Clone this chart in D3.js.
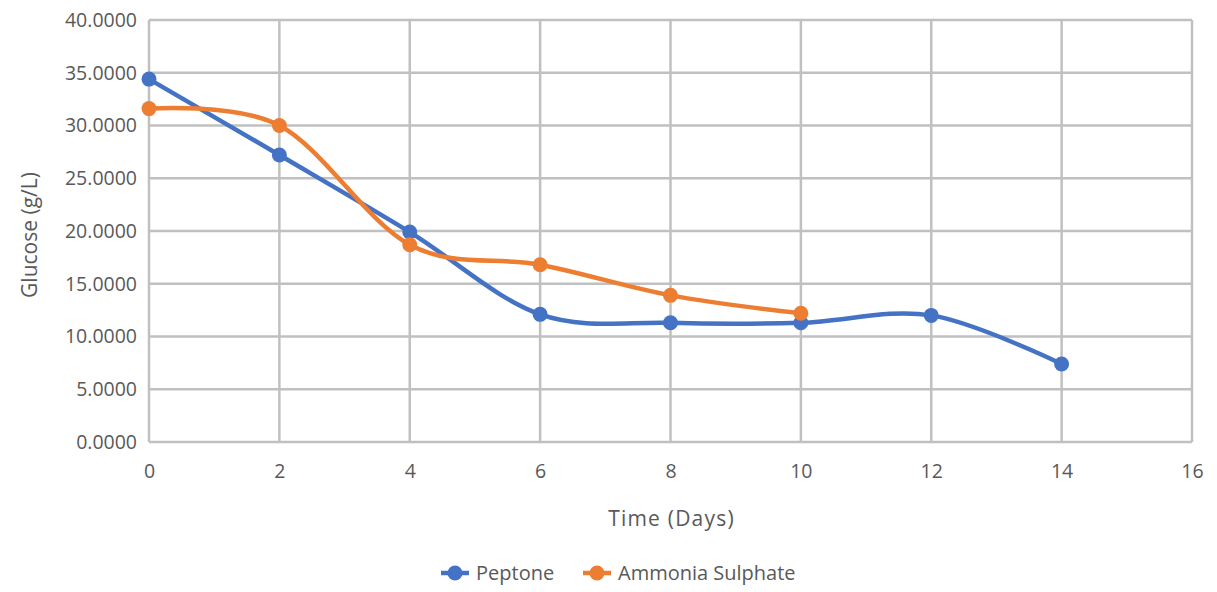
<!DOCTYPE html>
<html>
<head>
<meta charset="utf-8">
<script src="https://cdn.jsdelivr.net/npm/d3@7"></script>
<style>
  body { margin: 0; background: #fff; }
  svg { font-family: "Open Sans", sans-serif; }
</style>
</head>
<body>
<svg id="chart" width="1217" height="592"></svg>
<script>
// data
var days = [0, 2, 4, 6, 8, 10, 12, 14];
var peptone = [34.4, 27.2, 19.9, 12.1, 11.3, 11.3, 12.0, 7.4];
var ammonia = [31.6, 30.0, 18.7, 16.8, 13.9, 12.2];
var xTicks = [0, 2, 4, 6, 8, 10, 12, 14, 16];
var yTicks = [0, 5, 10, 15, 20, 25, 30, 35, 40];
var seriesNames = ["Peptone", "Ammonia Sulphate"];
var colors = ["#4472C4", "#ED7D31"];

var svg = d3.select("#chart");
// plot box (note: "top" would clash with window.top)
var plotL = 149, plotR = 1192, plotT = 20, plotB = 442;
var textCol = "#595959";

var x = d3.scaleLinear().domain([0, 16]).range([plotL, plotR]);
var y = d3.scaleLinear().domain([0, 40]).range([plotB, plotT]);

///////////////////////////////////////////////////////////////////////////////
// Grid
///////////////////////////////////////////////////////////////////////////////

svg.append("g").selectAll("line").data(yTicks).enter().append("line")
  .attr("x1", plotL).attr("x2", plotR)
  .attr("y1", function (d) { return y(d); })
  .attr("y2", function (d) { return y(d); })
  .attr("stroke", "#c0c0c0").attr("stroke-width", 2.5);

svg.append("g").selectAll("line").data(xTicks).enter().append("line")
  .attr("y1", plotT).attr("y2", plotB)
  .attr("x1", function (d) { return x(d); })
  .attr("x2", function (d) { return x(d); })
  .attr("stroke", "#c0c0c0").attr("stroke-width", 2.5);

// axes (labels only)
var yAxis = svg.append("g")
  .attr("transform", "translate(" + (plotL - 9) + ",0)")
  .call(d3.axisLeft(y).tickValues(yTicks).tickSize(0)
    .tickFormat(function (d) { return d3.format(".4f")(d); }));
yAxis.select(".domain").remove();
yAxis.selectAll("text").attr("fill", textCol).attr("font-size", 19.5)
  .attr("font-family", "Open Sans, sans-serif");

var xAxis = svg.append("g")
  .attr("transform", "translate(0," + (plotB + 19) + ")")
  .call(d3.axisBottom(x).tickValues(xTicks).tickSize(0));
xAxis.select(".domain").remove();
xAxis.selectAll("text").attr("fill", textCol).attr("font-size", 19.5)
  .attr("font-family", "Open Sans, sans-serif");

svg.append("text")
  .attr("x", (plotL + plotR) / 2 + 1).attr("y", 526)
  .attr("text-anchor", "middle").attr("fill", textCol)
  .attr("font-size", 21).attr("letter-spacing", 1.2)
  .text("Time (Days)");

svg.append("text")
  .attr("transform", "translate(37,235) rotate(-90)")
  .attr("text-anchor", "middle").attr("fill", textCol)
  .attr("font-size", 21).text("Glucose (g/L)");

///////////////////////////////////////////////////////////////////////////////
// Series
///////////////////////////////////////////////////////////////////////////////

var line = d3.line()
  .x(function (d) { return x(d[0]); })
  .y(function (d) { return y(d[1]); })
  .curve(d3.curveCardinal.tension(0));

[peptone, ammonia].forEach(function (vals, i) {
  var pts = vals.map(function (v, j) { return [days[j], v]; });
  svg.append("path").datum(pts)
    .attr("d", line)
    .attr("fill", "none")
    .attr("stroke", colors[i])
    .attr("stroke-width", 4.5)
    .attr("stroke-linejoin", "round");
  svg.append("g").selectAll("circle").data(pts).enter().append("circle")
    .attr("cx", function (d) { return x(d[0]); })
    .attr("cy", function (d) { return y(d[1]); })
    .attr("r", 7.5)
    .attr("fill", colors[i]);
});

///////////////////////////////////////////////////////////////////////////////
// Legend
///////////////////////////////////////////////////////////////////////////////

var legendX = [441, 583];
seriesNames.forEach(function (name, i) {
  var g = svg.append("g").attr("transform", "translate(" + legendX[i] + ",573)");
  g.append("line").attr("x1", 0).attr("x2", 28).attr("y1", 0).attr("y2", 0)
    .attr("stroke", colors[i]).attr("stroke-width", 4.5);
  g.append("circle").attr("cx", 14).attr("cy", 0).attr("r", 7.5).attr("fill", colors[i]);
  g.append("text").attr("x", 35).attr("y", 7)
    .attr("fill", textCol).attr("font-size", 20).text(name);
});
</script>
</body>
</html>
